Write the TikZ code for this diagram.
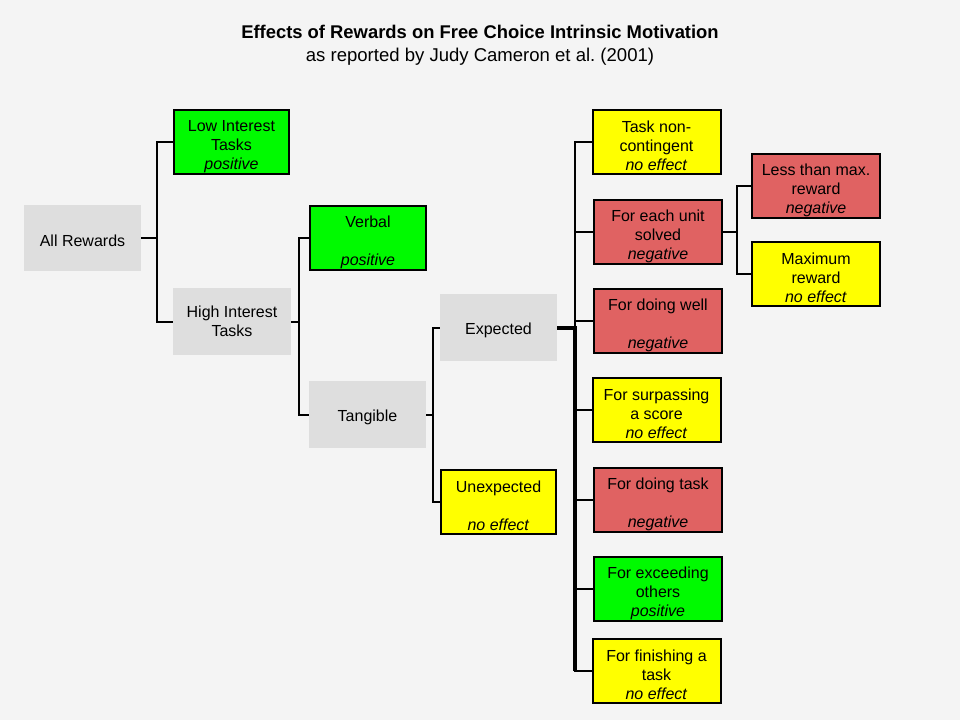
\documentclass[tikz,border=0pt]{standalone}
\usepackage{fontspec}
\setmainfont{Liberation Sans}
\definecolor{rwback}{HTML}{F4F4F4}
\definecolor{rwgrey}{HTML}{DEDEDE}
\definecolor{rwgreen}{HTML}{00FA00}
\definecolor{rwred}{HTML}{E06262}
\definecolor{rwyellow}{HTML}{FFFF00}
\newcommand{\eff}[1]{\textit{#1}}
\newcommand{\lift}{\rule{0pt}{15pt}}
\begin{document}
\begin{tikzpicture}[x=0.75pt,y=-0.75pt,
    every node/.style={font=\fontsize{12}{14.25}\selectfont,
          align=center, inner sep=0pt},
    rbox/.style={minimum width=86.5pt, minimum height=48.5pt},
    widebox/.style={rbox, minimum width=96pt},
    greybox/.style={rbox, fill=rwgrey,
          minimum width=88pt, minimum height=50pt,
          execute at begin node={\rule{0pt}{12.5pt}}},
    colbox/.style={draw=black, line width=1.5pt},
    posbox/.style={colbox, fill=rwgreen},
    negbox/.style={colbox, fill=rwred},
    nullbox/.style={colbox, fill=rwyellow},
    link/.style={line width=1.5pt},
    bus/.style={line width=3pt}]
    \fill[rwback] (0,0) rectangle (960,720);
    \node[font=\fontsize{13.8}{17}\selectfont\bfseries]
          (title) at (480,32) {Effects of Rewards on Free Choice Intrinsic Motivation};
    \node[font=\fontsize{13.9}{17}\selectfont]
          (sub) at (480,57) {as reported by Judy Cameron et al.\ (2001)};
    \node[greybox] (all) at (82.5,238) {All Rewards};
    \node[rbox,posbox] (low) at (231.5,142) {\lift Low Interest\\Tasks\\\eff{positive}};
    \node[greybox] (high) at (232,321.5) {High Interest\\Tasks};
    \node[rbox,posbox] (verb) at (368,238) {\lift Verbal\\\mbox{}\\\eff{positive}};
    \node[greybox] (tang) at (367.5,414.5) {Tangible};
    \node[greybox] (exp) at (498.5,327.5) {Expected};
    \node[rbox,nullbox] (unexp) at (498.5,502) {\lift Unexpected\\\mbox{}\\\eff{no effect}};
    \node[widebox,nullbox] (tnc) at (656.5,142) {\lift Task non-\\contingent\\\eff{no effect}};
    \node[widebox,negbox] (unit) at (658,232) {\lift For each unit\\solved\\\eff{negative}};
    \node[widebox,negbox] (well) at (658,321) {\lift For doing well\\\mbox{}\\\eff{negative}};
    \node[widebox,nullbox] (surp) at (656.5,410) {\lift For surpassing\\a score\\\eff{no effect}};
    \node[widebox,negbox] (task) at (658,500) {\lift For doing task\\\mbox{}\\\eff{negative}};
    \node[widebox,posbox] (exc) at (658,589) {\lift For exceeding\\others\\\eff{positive}};
    \node[widebox,nullbox] (fin) at (656.5,671) {\lift For finishing a\\task\\\eff{no effect}};
    \node[widebox,negbox] (less) at (816,186) {\lift Less than max.\\reward\\\eff{negative}};
    \node[widebox,nullbox] (max) at (816,274) {\lift Maximum\\reward\\\eff{no effect}};
    \coordinate (j1) at (157,238);
    \coordinate (j2) at (299,321.5);
    \coordinate (j3) at (433,414.5);
    \coordinate (j4) at (575,327.5);
    \coordinate (j5) at (737,232);
    \draw[link] (all) -- (j1);
    \foreach \n in {low,high}
        \draw[link] (j1) |- (\n);
    \draw[link] (high) -- (j2);
    \foreach \n in {verb,tang}
        \draw[link] (j2) |- (\n);
    \draw[link] (tang) -- (j3);
    \foreach \n in {exp,unexp}
        \draw[link] (j3) |- (\n);
    \draw[bus] (exp) -- (j4) -- (j4 |- fin);
    \foreach \n in {tnc,unit,well,surp,task,exc,fin}
        \draw[link] (j4) |- (\n);
    \draw[link] (unit) -- (j5);
    \foreach \n in {less,max}
        \draw[link] (j5) |- (\n);
\end{tikzpicture}
\end{document}
